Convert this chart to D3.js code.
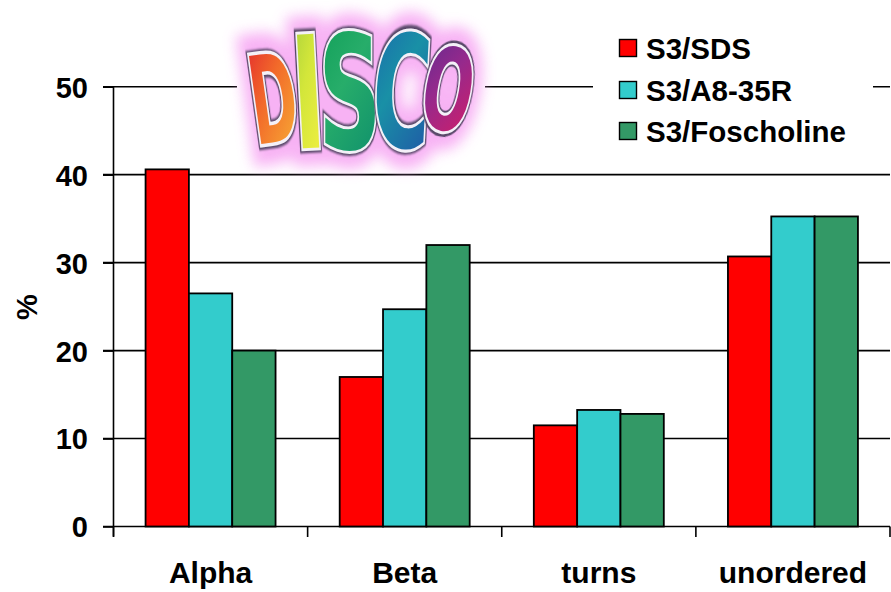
<!DOCTYPE html>
<html>
<head>
<meta charset="utf-8">
<script src="https://cdn.jsdelivr.net/npm/d3@7"></script>
<style>
  html, body { margin: 0; padding: 0; background: #fff; }
  svg { display: block; }
  text { font-family: "Liberation Sans", Arial, sans-serif; font-weight: bold; fill: #000; }
</style>
</head>
<body>
<svg id="chart" width="891" height="592"></svg>
<script>
// Secondary-structure content (%) per detergent condition
const categories = ["Alpha", "Beta", "turns", "unordered"];
const seriesNames = ["S3/SDS", "S3/A8-35R", "S3/Foscholine"];
const seriesColors = ["#ff0000", "#33cccc", "#339966"];
const sdsValues = [40.6, 17.0, 11.5, 30.7];
const a835Values = [26.5, 24.7, 13.25, 35.25];
const foscholineValues = [20.0, 32.0, 12.8, 35.25];
const yTicks = [0, 10, 20, 30, 40, 50];

const seriesValues = [sdsValues, a835Values, foscholineValues];

const svg = d3.select("#chart");

const x0 = d3.scaleBand().domain(categories).range([113.5, 890]).paddingInner(0).paddingOuter(0);
const x1 = d3.scaleBand().domain(seriesNames).range([0, x0.bandwidth()]).paddingInner(0).paddingOuter(0.74);
const y = d3.scaleLinear().domain([0, 50]).range([526.5, 86.7]);

// Gridlines (extend left into tick marks)
svg.append("g").selectAll("line").data(yTicks.filter(d => d > 0)).join("line")
  .attr("x1", 103).attr("x2", 890)
  .attr("y1", d => y(d)).attr("y2", d => y(d))
  .attr("stroke", "#000").attr("stroke-width", 1.6);

// Y axis
const yAxis = d3.axisLeft(y).tickValues(yTicks).tickSize(10.5).tickPadding(15).tickFormat(d3.format("d"));
const gy = svg.append("g").attr("transform", "translate(113.5,0)").call(yAxis);
gy.select(".domain").attr("stroke", "#000").attr("stroke-width", 1.6).attr("d", `M-10.5,${y(50)}H0V${y(0) + 10}`);
gy.selectAll(".tick line").attr("stroke", "#000").attr("stroke-width", 1.6);
gy.selectAll(".tick text").style("font-size", "29px").style("font-family", "'Liberation Sans', Arial, sans-serif")
  .style("font-weight", "bold").attr("fill", "#000").attr("dy", "0.36em");

// X axis: ticks at category boundaries
const bounds = categories.map(c => x0(c)).concat([x0.range()[1]]);
svg.append("line").attr("x1", 103).attr("x2", 890).attr("y1", y(0)).attr("y2", y(0))
  .attr("stroke", "#000").attr("stroke-width", 1.6);
svg.append("g").selectAll("line").data(bounds).join("line")
  .attr("x1", d => d).attr("x2", d => d)
  .attr("y1", y(0)).attr("y2", y(0) + 10.5)
  .attr("stroke", "#000").attr("stroke-width", 1.6);
svg.append("g").selectAll("text").data(categories).join("text")
  .attr("x", d => x0(d) + x0.bandwidth() / 2)
  .attr("y", 583)
  .attr("text-anchor", "middle")
  .style("font-size", "30px")
  .text(d => d);

// Y-axis title
svg.append("text")
  .attr("transform", "translate(37,307) rotate(-90)")
  .attr("text-anchor", "middle")
  .style("font-size", "29px")
  .text("%");

// Bars
const groups = svg.append("g").selectAll("g").data(categories).join("g")
  .attr("transform", d => `translate(${x0(d)},0)`);
groups.selectAll("rect")
  .data((c, ci) => seriesNames.map((s, si) => ({ s, si, v: seriesValues[si][ci] })))
  .join("rect")
  .attr("x", d => x1(d.s))
  .attr("y", d => y(d.v))
  .attr("width", x1.bandwidth())
  .attr("height", d => y(0) - y(d.v))
  .attr("fill", d => seriesColors[d.si])
  .attr("stroke", "#000")
  .attr("stroke-width", 1.8);

// Legend box (white background interrupts the top gridline)
const legend = svg.append("g");
legend.append("rect").attr("x", 593).attr("y", 20).attr("width", 280).attr("height", 130).attr("fill", "#fff");
const rowY = [48, 90, 131];
seriesNames.forEach((s, i) => {
  legend.append("rect").attr("x", 619.5).attr("y", rowY[i] - 8.5).attr("width", 17).attr("height", 17)
    .attr("fill", seriesColors[i]).attr("stroke", "#000").attr("stroke-width", 1.4);
  legend.append("text").attr("x", 646).attr("y", rowY[i]).attr("dy", "0.36em")
    .style("font-size", "29.5px").text(s);
});

// DISCO logo
const defs = svg.append("defs");
const glow = defs.append("filter").attr("id", "glow").attr("x", "-30%").attr("y", "-30%").attr("width", "160%").attr("height", "160%");
glow.append("feGaussianBlur").attr("stdDeviation", 7);
const soft = defs.append("filter").attr("id", "soft").attr("x", "-10%").attr("y", "-10%").attr("width", "120%").attr("height", "120%");
soft.append("feGaussianBlur").attr("stdDeviation", 0.7);

const letters = [
  { ch: "D", box: [253, 53, 40, 89], rot: -8, stops: ["#e0202e", "#f26a2a", "#f7a935"] },
  { ch: "I", box: [298, 34, 20, 114], rot: -3, stops: ["#9fcb3c", "#d3e63a", "#f0ef42"] },
  { ch: "S", box: [323, 33, 54, 116], rot: 0, stops: ["#0d9d55", "#27ad6a", "#11926c"] },
  { ch: "C", box: [377, 33, 50, 114], rot: 3, stops: ["#1a66ad", "#1990a6", "#1f5fa6"] },
  { ch: "O", box: [427, 47, 43, 83], rot: 10, stops: ["#5e2a8f", "#96298c", "#c81f6e"] }
];

letters.forEach((L, i) => {
  const g = defs.append("linearGradient").attr("id", "lg" + i)
    .attr("x1", "0").attr("y1", "0").attr("x2", "0.6").attr("y2", "1");
  L.stops.forEach((c, k) => g.append("stop").attr("offset", k / (L.stops.length - 1)).attr("stop-color", c));
});

const logo = svg.append("g");
logo.append("rect").attr("x", 237).attr("y", 0).attr("width", 248).attr("height", 172).attr("fill", "#fff");
const haze = logo.append("g").attr("filter", "url(#glow)").attr("opacity", 0.8);
const glyphs = logo.append("g");

const CAP = 73;   // cap height of DejaVu Sans Bold at 100px
letters.forEach((L, i) => {
  const [bx, by, bw, bh] = L.box;
  const cx = bx + bw / 2, cy = by + bh / 2;
  const t = glyphs.append("text").text(L.ch)
    .style("font-family", "'DejaVu Sans', sans-serif").style("font-weight", "bold").style("font-size", "100px")
    .attr("text-anchor", "middle");
  const adv = t.node().getComputedTextLength();
  t.remove();
  const inkW = L.ch === "I" ? adv * 0.62 : adv * 0.86;
  const sx = bw / inkW, sy = bh / CAP;
  const tf = `translate(${cx},${cy}) rotate(${L.rot}) scale(${sx},${sy}) translate(0,${CAP / 2})`;
  const k = Math.min(sx, sy);
  const addText = (parent) => parent.append("text").text(L.ch).attr("transform", tf).attr("text-anchor", "middle")
    .style("font-family", "'DejaVu Sans', sans-serif").style("font-weight", "bold").style("font-size", "100px");
  // pink halo
  addText(haze).style("fill", "#f07ff0").attr("stroke", "#f6a0f2").attr("stroke-width", 20 / k);
  // dark edge and white rim
  addText(glyphs).style("fill", "none").attr("stroke", "#5a4a6a").attr("stroke-width", 5.5 / k).attr("filter", "url(#soft)");
  addText(glyphs).style("fill", "none").attr("stroke", "#f4f0f8").attr("stroke-width", 3.2 / k);
  addText(glyphs).style("fill", `url(#lg${i})`);
});
</script>
</body>
</html>
